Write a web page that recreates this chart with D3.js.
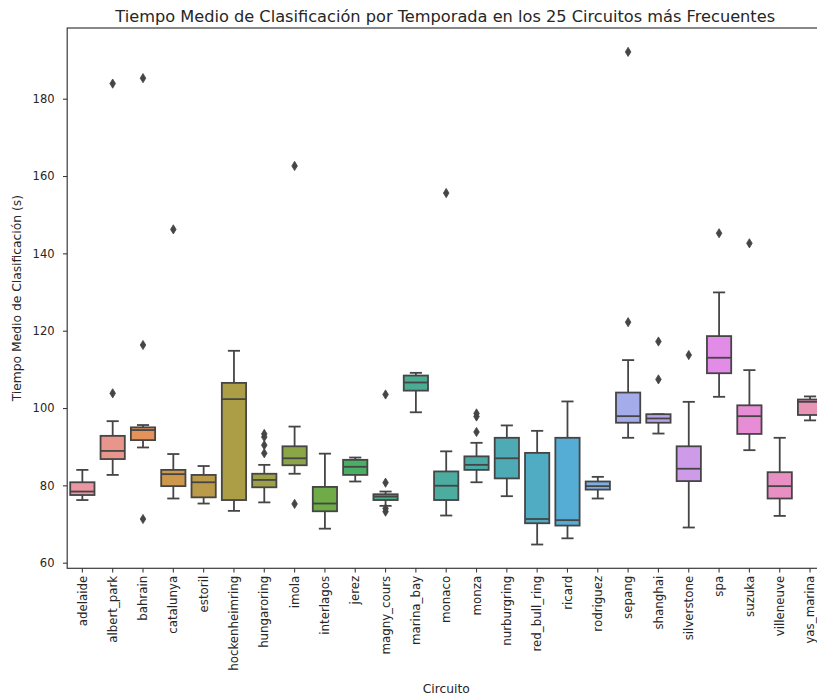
<!DOCTYPE html>
<html>
<head>
<meta charset="utf-8">
<script src="https://cdn.jsdelivr.net/npm/d3@7"></script>
<style>
body{margin:0;background:#fff;}
text{font-family:"DejaVu Sans",sans-serif;fill:#262626;}
</style>
</head>
<body>
<div id="chart"></div>
<script>
// valores (s)
const circuits = ["adelaide","albert_park","bahrain","catalunya","estoril","hockenheimring","hungaroring","imola","interlagos","jerez","magny_cours","marina_bay","monaco","monza","nurburgring","red_bull_ring","ricard","rodriguez","sepang","shanghai","silverstone","spa","suzuka","villeneuve","yas_marina"];
const whiskerLow  = [76.2, 82.7, 89.8, 76.6, 75.3, 73.4, 75.6, 83.0, 68.8, 81.0, 74.7, 98.9, 72.2, 80.8, 77.2, 64.7, 66.3, 76.6, 92.3, 93.4, 69.1, 102.9, 89.1, 72.1, 96.8];
const q1          = [77.5, 86.8, 91.7, 79.8, 76.9, 76.2, 79.5, 85.2, 73.3, 82.7, 76.2, 104.5, 76.2, 84.0, 81.8, 70.2, 69.6, 78.9, 96.2, 96.2, 81.1, 109.0, 93.3, 76.6, 98.2];
const medians     = [78.4, 88.9, 94.3, 82.9, 80.8, 102.3, 81.4, 87.0, 75.3, 84.8, 77.1, 106.6, 79.9, 85.3, 87.0, 71.3, 71.0, 79.8, 97.9, 97.3, 84.3, 113.0, 97.9, 79.8, 101.6];
const q3          = [80.8, 92.8, 95.0, 84.0, 82.7, 106.5, 83.0, 90.1, 79.6, 86.6, 77.7, 108.4, 83.6, 87.5, 92.3, 88.4, 92.3, 81.0, 104.0, 98.4, 90.1, 118.6, 100.7, 83.4, 102.2];
const whiskerHigh = [84.0, 96.6, 95.6, 88.1, 85.0, 114.8, 85.3, 95.2, 88.2, 87.2, 78.4, 109.1, 88.8, 91.0, 95.5, 94.1, 101.7, 82.2, 112.4, 98.4, 101.6, 129.9, 109.8, 92.3, 103.0];
const outliers = [
  [], [103.8, 183.9], [71.3, 116.3, 185.3], [146.2], [], [],
  [88.3, 90.4, 92.5, 93.3], [75.2, 162.6], [], [], [73.2, 74.0, 80.7, 103.5], [],
  [155.6], [93.8, 97.8, 98.6], [], [], [], [],
  [122.2, 192.1], [107.4, 117.2], [113.7], [145.2], [142.6], [], []
];
const yTicks = [60, 80, 100, 120, 140, 160, 180];

const width = 817, height = 697;
const margin = {top: 28, right: -8.2, bottom: 128.7, left: 67.2};

// paleta husl de seaborn (l=.7) desaturada al 75%
const M = [[3.2406,-1.5372,-0.4986],[-0.9689,1.8758,0.0415],[0.0557,-0.2040,1.0570]];
const refU = 0.19784, refV = 0.46834, kappa = 903.2963, epsilon = 0.0088564;

function maxChroma(L, H){
  const hrad = H * Math.PI / 180, sinH = Math.sin(hrad), cosH = Math.cos(hrad);
  const sub1 = Math.pow(L + 16, 3) / 1560896;
  const sub2 = sub1 > epsilon ? sub1 : L / kappa;
  let result = Infinity;
  M.forEach(([m1, m2, m3]) => {
    const top = (0.99915*m1 + 1.05122*m2 + 1.14460*m3) * sub2;
    const rbottom = 0.86330*m3 - 0.17266*m2;
    const lbottom = 0.12949*m3 - 0.38848*m1;
    const bottom = (rbottom*sinH + lbottom*cosH) * sub2;
    [0, 1].forEach(t => {
      const C = L * (top - 1.05122*t) / (bottom + 0.17266*sinH*t);
      if(C > 0 && C < result) result = C;
    });
  });
  return result;
}

function huslToRgb(H, S, L){
  const C = maxChroma(L, H) / 100 * S;
  const hrad = H * Math.PI / 180;
  const U = Math.cos(hrad) * C, V = Math.sin(hrad) * C;
  const t = (L + 16) / 116;
  const varY = Math.pow(t, 3) > epsilon ? Math.pow(t, 3) : (116*t - 16) / kappa;
  const varU = U / (13*L) + refU, varV = V / (13*L) + refV;
  const Y = varY;
  const X = -(9*Y*varU) / ((varU - 4)*varV - varU*varV);
  const Z = (9*Y - 15*varV*Y - varV*X) / (3*varV);
  return M.map(row => {
    const c = row[0]*X + row[1]*Y + row[2]*Z;
    const v = c <= 0.0031308 ? 12.92*c : 1.055*Math.pow(c, 1/2.4) - 0.055;
    return Math.max(0, Math.min(1, v));
  });
}

const n = circuits.length;
const colors = d3.range(n).map(i => {
  const h = ((i / n + 0.01) % 1) * 359;
  const [r, g, b] = huslToRgb(h, 0.9*99, 0.7*99);
  const hsl = d3.hsl(d3.rgb(r*255, g*255, b*255));
  hsl.s *= 0.75;
  return hsl;
});
const lum = d3.min(colors, c => c.l) * 0.6;
const gray = d3.rgb(lum*255, lum*255, lum*255).formatHex();

const svg = d3.select("#chart").append("svg")
  .attr("width", width)
  .attr("height", height);

const x = d3.scaleBand()
  .domain(circuits)
  .range([margin.left, width - margin.right])
  .paddingInner(0).paddingOuter(0);

const y = d3.scaleLinear()
  .domain([58.55, 198.28])
  .range([height - margin.bottom, margin.top]);

const boxW = x.bandwidth() * 0.8;
const capW = boxW * 0.5;

const boxes = circuits.map((c, i) => ({
  name: c, color: colors[i],
  lo: whiskerLow[i], q1: q1[i], med: medians[i], q3: q3[i], hi: whiskerHigh[i],
  out: outliers[i]
}));

const g = svg.append("g").selectAll("g.box")
  .data(boxes)
  .enter()
  .append("g")
  .attr("transform", d => `translate(${x(d.name) + x.bandwidth()/2},0)`);

g.append("line")
  .attr("x1", 0).attr("x2", 0)
  .attr("y1", d => y(d.q3)).attr("y2", d => y(d.hi))
  .attr("stroke", gray).attr("stroke-width", 1.8);
g.append("line")
  .attr("x1", 0).attr("x2", 0)
  .attr("y1", d => y(d.q1)).attr("y2", d => y(d.lo))
  .attr("stroke", gray).attr("stroke-width", 1.8);
g.selectAll("line.cap")
  .data(d => [d.lo, d.hi])
  .enter()
  .append("line")
  .attr("class", "cap")
  .attr("x1", -capW/2).attr("x2", capW/2)
  .attr("y1", d => y(d)).attr("y2", d => y(d))
  .attr("stroke", gray).attr("stroke-width", 1.8);

g.append("rect")
  .attr("x", -boxW/2)
  .attr("width", boxW)
  .attr("y", d => y(d.q3))
  .attr("height", d => y(d.q1) - y(d.q3))
  .attr("fill", d => d.color)
  .attr("stroke", gray).attr("stroke-width", 1.8);

g.append("line")
  .attr("x1", -boxW/2).attr("x2", boxW/2)
  .attr("y1", d => y(d.med)).attr("y2", d => y(d.med))
  .attr("stroke", gray).attr("stroke-width", 1.8);

g.selectAll("path.flier")
  .data(d => d.out)
  .enter()
  .append("path")
  .attr("class", "flier")
  .attr("d", d => {
    const cy = y(d);
    return `M0,${cy-4.6}L2.8,${cy}L0,${cy+4.6}L-2.8,${cy}Z`;
  })
  .attr("fill", gray).attr("stroke", gray).attr("stroke-width", 0.8);

// marco
const x0 = margin.left, x1 = width - margin.right, y0 = margin.top, y1 = height - margin.bottom;
svg.append("rect")
  .attr("x", x0).attr("y", y0)
  .attr("width", x1 - x0).attr("height", y1 - y0)
  .attr("fill", "none").attr("stroke", "#3a3a3a").attr("stroke-width", 1.2);

// eje y
const yAxis = svg.append("g")
  .attr("transform", `translate(${x0},0)`)
  .call(d3.axisLeft(y).tickValues(yTicks).tickSize(4.2).tickPadding(8.5));
yAxis.select(".domain").remove();
yAxis.selectAll(".tick line").attr("stroke", "#3a3a3a").attr("stroke-width", 1.1);
yAxis.selectAll(".tick text")
  .style("font-family", "DejaVu Sans")
  .style("font-size", "11.5px")
  .attr("fill", "#262626");

// eje x
const xAxis = svg.append("g")
  .attr("transform", `translate(0,${y1})`)
  .call(d3.axisBottom(x).tickSize(4.2).tickPadding(4));
xAxis.select(".domain").remove();
xAxis.selectAll(".tick line").attr("stroke", "#3a3a3a").attr("stroke-width", 1.1);
xAxis.selectAll(".tick text")
  .style("font-family", "DejaVu Sans")
  .style("font-size", "11.8px")
  .attr("fill", "#262626")
  .attr("transform", "rotate(-90)")
  .attr("text-anchor", "end")
  .attr("x", -7.5)
  .attr("y", 0)
  .attr("dy", "0.35em");

svg.append("text")
  .attr("x", (x0 + 825.2) / 2 - 1)
  .attr("y", 22)
  .attr("text-anchor", "middle")
  .style("font-size", "16.2px")
  .text("Tiempo Medio de Clasificación por Temporada en los 25 Circuitos más Frecuentes");

svg.append("text")
  .attr("x", (x0 + 825.2) / 2)
  .attr("y", 693)
  .attr("text-anchor", "middle")
  .style("font-size", "12.3px")
  .text("Circuito");

svg.append("text")
  .attr("transform", `translate(21,${(y0 + y1) / 2}) rotate(-90)`)
  .attr("text-anchor", "middle")
  .style("font-size", "12.3px")
  .text("Tiempo Medio de Clasificación (s)");
</script>
</body>
</html>
